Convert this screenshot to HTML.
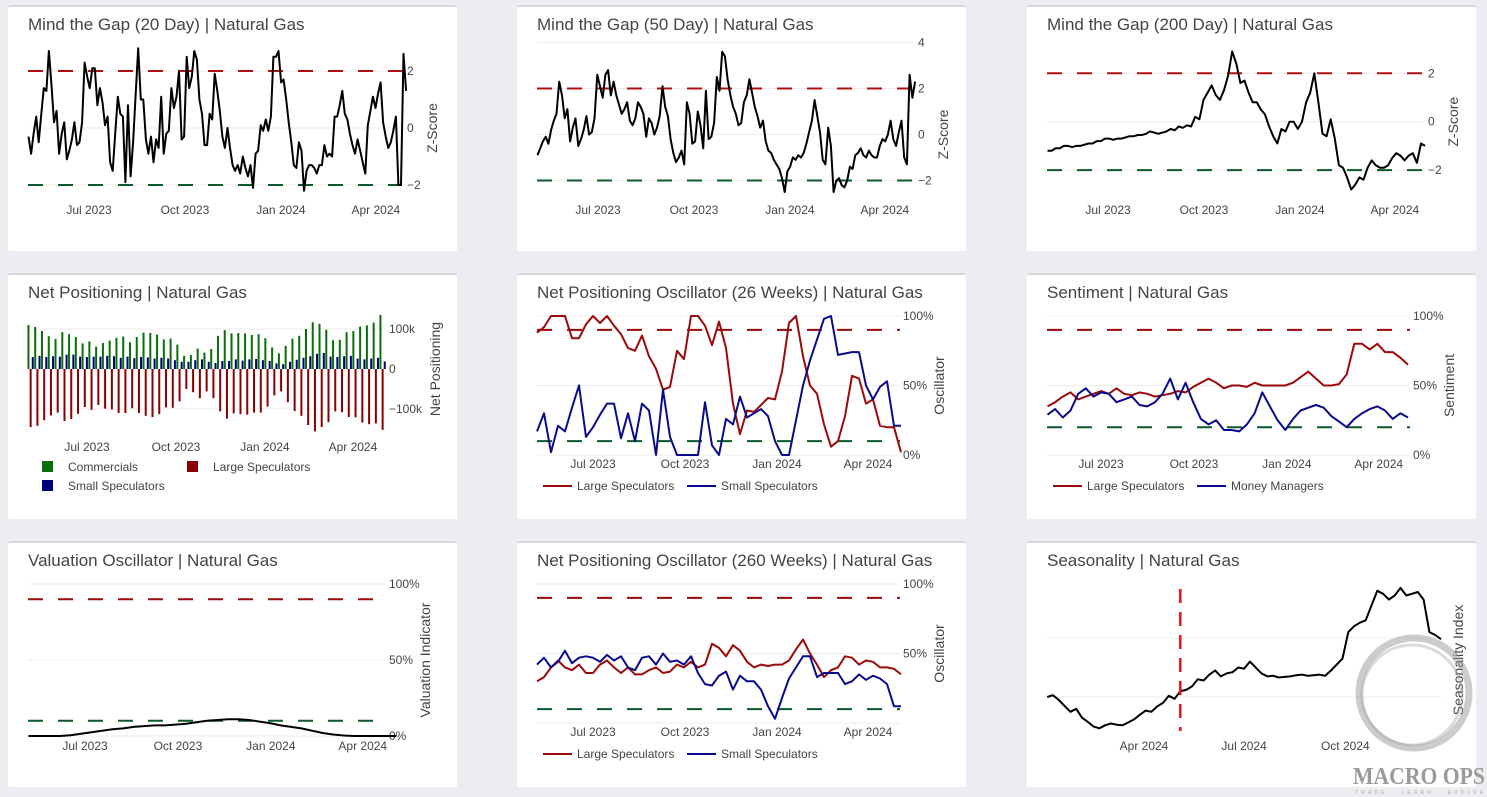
<!DOCTYPE html>
<html><head><meta charset="utf-8">
<style>
html,body{margin:0;padding:0;background:#ebedf1;}
svg{display:block;font-family:"Liberation Sans",sans-serif;}
</style></head>
<body>
<svg id="dash" width="1487" height="797" viewBox="0 0 1487 797"></svg>
<script>
// ---------- DATA ----------
const gap20Values=[-0.3,-0.9,-0.2,0.4,-0.5,0.5,1.4,1.3,2.7,1.5,0.2,0.6,-0.9,-0.2,0.2,-1.1,-0.8,-0.4,0.2,-0.6,-0.5,0.2,2.3,1.8,1.4,2.1,2.1,0.8,1.4,0.9,0.1,0.4,-1.2,-1.5,-0.2,1.1,0.5,0.4,-1.9,0.8,-1.7,-0.5,1.2,2.8,1.0,1.0,-0.4,-0.9,-0.3,-1.2,-0.4,-0.7,1.1,-0.9,-0.2,-0.1,1.4,0.7,1.1,2.0,-0.4,-0.3,2.5,1.4,1.8,2.7,2.4,1.0,0.5,-0.6,-0.6,0.5,0.3,1.9,1.3,0.6,-0.3,-0.7,0.0,-0.7,-1.3,-1.5,-1.3,-1.6,-1.0,-1.4,-1.7,-1.3,-2.1,-0.9,-0.8,0.1,-0.1,0.3,-0.1,0.4,2.5,2.5,2.7,1.6,1.7,1.0,0.2,-0.5,-1.3,-1.4,-0.5,-0.8,-2.2,-1.5,-1.3,-1.3,-1.4,-1.6,-1.3,-1.3,-0.6,-1.0,-0.9,-1.0,0.4,0.4,0.8,1.3,0.5,0.3,-0.2,-0.6,-0.9,-0.4,-0.8,-1.2,-1.6,0.1,0.6,1.1,0.7,1.2,1.6,0.2,-0.3,-0.7,-0.5,-0.1,0.4,-2.0,-2.0,2.6,1.3];
const gap50Values=[-0.9,-0.6,-0.3,-0.1,-0.4,0.2,0.6,0.9,2.3,1.7,0.7,1.1,-0.3,0.3,0.7,-0.5,-0.2,0.2,0.8,0.0,0.1,0.7,2.6,2.1,1.6,2.6,2.8,1.7,2.3,1.7,1.3,0.9,1.1,1.4,0.6,0.4,0.7,1.4,1.2,0.9,-0.1,0.7,0.5,0.0,0.3,0.8,2.1,1.2,0.8,-0.2,-0.8,-1.2,-1.0,-0.7,-1.3,1.4,0.9,-0.4,-0.3,1.0,0.4,-0.6,1.9,-0.2,-0.1,0.5,2.5,1.9,3.6,3.4,2.4,1.7,1.2,0.9,0.4,0.5,1.4,1.7,2.4,1.8,1.2,0.8,0.3,0.6,-0.3,-0.7,-0.8,-1.1,-1.3,-1.5,-1.9,-2.5,-1.6,-1.4,-1.0,-1.1,-0.9,-1.0,-0.8,-0.4,0.1,0.6,1.5,0.8,0.1,-1.1,-1.3,0.3,-0.5,-2.5,-2.0,-1.9,-2.2,-2.3,-2.0,-1.4,-1.5,-0.9,-0.8,-0.6,-0.9,-1.0,-0.7,-0.9,-1.0,-1.0,-0.5,-0.2,-0.3,0.0,0.6,-0.2,-0.5,0.1,0.6,-1.0,-1.3,2.6,1.6,2.3];
const gap200Values=[-1.2,-1.2,-1.1,-1.1,-1.0,-1.0,-1.05,-1.0,-1.0,-0.95,-0.9,-0.9,-0.8,-0.8,-0.7,-0.7,-0.75,-0.7,-0.7,-0.65,-0.6,-0.6,-0.55,-0.55,-0.5,-0.4,-0.45,-0.5,-0.45,-0.4,-0.3,-0.35,-0.2,-0.25,-0.15,-0.2,0.2,0.1,0.9,1.2,1.5,1.1,0.9,1.3,1.9,2.9,2.4,1.6,1.7,1.2,0.8,0.8,0.5,0.3,-0.2,-0.6,-0.9,-0.3,-0.4,0.0,0.0,-0.3,0.0,0.8,1.2,2.0,0.8,-0.5,-0.6,0.1,-0.7,-1.8,-1.9,-2.3,-2.8,-2.6,-2.3,-2.4,-1.9,-1.6,-1.8,-1.9,-1.9,-1.8,-1.5,-1.3,-1.4,-1.6,-1.4,-1.3,-1.7,-0.9,-1.0];
const zTicks=[-2,0,2];
const zTicks50=[-2,0,2,4];
const gapMonthTicks=['2023-07-01','2023-10-01','2024-01-01','2024-04-01'];
const gapMonthLabels=['Jul 2023','Oct 2023','Jan 2024','Apr 2024'];

const commercialsK=[110,105,95,82,75,92,87,80,64,69,56,65,71,78,81,67,80,91,90,86,74,76,61,33,35,51,41,50,83,97,89,90,89,85,87,77,54,39,58,76,83,100,117,113,98,72,73,92,95,106,109,116,135];
const smallSpecK=[30,33,30,32,31,36,36,31,30,31,31,33,32,28,31,27,30,29,26,28,26,22,18,18,22,24,18,15,20,20,24,21,24,25,22,20,14,12,18,23,28,32,38,40,31,30,32,33,26,24,26,28,19];
const largeSpecK=[-145,-142,-128,-116,-109,-130,-125,-112,-95,-102,-90,-99,-101,-110,-110,-98,-110,-117,-120,-113,-96,-97,-81,-50,-58,-73,-56,-73,-106,-124,-111,-113,-114,-109,-109,-94,-66,-56,-83,-105,-117,-140,-156,-145,-133,-106,-108,-120,-121,-134,-138,-136,-152];
const netTicks=[-100,0,100];
const netTickLabels=['\u2212100k','0','100k'];
const netMonthLabels=['Jul 2023','Oct 2023','Jan 2024','Apr 2024'];

const npo26Large=[88,92,100,100,100,84,84,94,100,95,100,93,87,77,75,86,71,62,47,49,75,69,100,100,93,79,96,77,37,15,32,31,36,41,40,60,95,100,71,50,44,22,6,10,28,57,55,37,40,21,20,20,2];
const npo26Small=[17,30,2,21,17,34,50,13,20,29,37,37,12,30,10,37,32,0,47,13,0,0,0,0,38,7,0,26,22,42,27,30,33,28,10,0,0,25,50,68,83,98,100,72,73,74,74,50,40,49,53,21,21];
const pctTicks=[0,50,100];
const pctTickLabels=['0%','50%','100%'];

const sentLarge=[35,38,42,45,40,42,44,46,44,48,44,43,45,44,42,43,44,46,45,49,52,55,52,48,50,50,49,52,50,50,50,50,52,56,60,55,50,50,51,58,80,80,76,80,74,74,70,65];
const sentMoney=[29,33,27,32,44,48,42,45,44,38,40,42,36,35,38,44,55,40,52,38,26,22,25,18,18,17,22,30,45,35,25,18,26,32,34,36,34,28,24,20,26,30,33,35,32,26,30,27];

const valuation=[0,0,0,0,0.5,1.5,2.5,3.5,4.5,5,6,6.5,7,7,7.5,8,9,10,10.5,11,11,10.5,9.5,8.5,7,6,5,3.5,2,1,0.3,0,0,0,0,0];

const npo260Large=[30,33,40,45,40,38,42,36,36,42,45,40,36,40,35,35,38,40,36,37,42,40,44,40,42,57,54,48,56,52,44,40,42,41,42,42,45,53,60,50,42,33,38,40,48,47,42,45,44,40,40,39,35];
const npo260Small=[42,47,40,44,52,43,47,48,47,44,49,45,48,40,38,47,48,42,50,44,45,42,48,36,28,27,34,37,24,34,30,30,24,12,3,18,32,40,48,48,33,36,36,36,28,30,35,31,34,32,28,12,12];

const seasonality=[0,0.3,-0.5,-1.5,-2.5,-2,-3.5,-4.2,-5,-5.3,-4.8,-4.5,-4.7,-4.8,-4.3,-3.8,-3,-2.3,-2.5,-1.6,-1,0.2,-0.3,1,1.2,1.8,3,2.8,3.8,4.5,3.5,4,4.2,5,4.8,6,5,4,3.5,3.6,3.3,3.4,3.5,3.7,3.8,3.6,3.7,3.8,3.6,4.5,5.5,6.5,11,12,12.6,13,15.5,18,17.5,16.5,17.2,18.5,17.2,17.5,17.8,16.5,11,10.5,9.8];
const seasonTicks=['2024-04-01','2024-07-01','2024-10-01'];
const seasonLabels=['Apr 2024','Jul 2024','Oct 2024'];
const seasonGrid=[0,10];
const seasonMarker='2024-05-04';

// ---------- HELPERS ----------
const svg=document.getElementById('dash');
const NS='http://www.w3.org/2000/svg';
const RED='#b01010', GREEN='#0b5a2a', BLUE='#0a0a8c', DRED='#9b0a0a', TXT='#444';
function mk(tag,attrs,parent){const e=document.createElementNS(NS,tag);for(const k in attrs)e.setAttribute(k,attrs[k]);(parent||svg).appendChild(e);return e;}
function day(s){return Date.parse(s)/86400000;}
function xScale(refDate,refX,ppd){return d=>refX+(d-day(refDate))*ppd;}
function yScale(y0,k){return v=>y0-v*k;}
function spread(start,end,n){const a=day(start),b=day(end);const out=[];for(let i=0;i<n;i++)out.push(a+(b-a)*i/(n-1));return out;}

function panel(x,y,title,name){
  const g=mk('g',{});
  
  
  const bd=mk('rect',{x:x,y:y,width:449,height:246,rx:3,fill:'#d4d7dc'},g);
  
  
  const bg=mk('rect',{x:x,y:y+2,width:449,height:244,rx:2,fill:'#fff'},g);
  
  
  const t=mk('text',{x:x+20,y:y+25,'font-size':17,fill:TXT},g);
  t.textContent=title;
  
  
  return g;
}
function hline(g,y,x1,x2,color,dash,name){
  const l=mk('line',{x1:x1,x2:x2,y1:y,y2:y,stroke:color,'stroke-width':dash?2:1,'stroke-dasharray':dash||'none'},g);
  
  
}
function label(g,x,y,txt,anchor,size,name,rot){
  const t=mk('text',{x:x,y:y,'font-size':size||12,fill:TXT,'text-anchor':anchor||'start'},g);
  if(rot)t.setAttribute('transform','rotate(-90 '+x+' '+y+')');
  t.textContent=txt;
  
  
}
function series(g,days,vals,xs,ys,color,name,w){
  let d='';vals.forEach((v,i)=>{d+=(i?'L':'M')+xs(days[i]).toFixed(1)+','+ys(v).toFixed(1);});
  const p=mk('path',{d:d,fill:'none',stroke:color,'stroke-width':w||2,'stroke-linejoin':'round'},g);
  
  
}
function xTicks(g,dates,labels,xs,y){dates.forEach((d,i)=>label(g,xs(day(d)),y,labels[i],'middle',12,'x-tick-label'));}
function yTicks(g,vals,labels,ys,x){vals.forEach((v,i)=>label(g,x,ys(v)+4,labels[i],'start',12,'y-tick-label'));}
function lineLegend(g,x,y,color,txt){
  const l=mk('line',{x1:x,x2:x+29,y1:y,y2:y,stroke:color,'stroke-width':2},g);
  
  
  label(g,x+34,y+4,txt,'start',12,'legend-entry');
}

// ---------- ROW 1: Mind the Gap ----------
function gapPanel(px,title,name,vals,jx,y0,k,ticks,x0,x1){
  const g=panel(px,5,title,name);
  const xs=xScale('2023-07-01',jx,1.043), ys=yScale(y0,k);
  ticks.forEach(v=>hline(g,ys(v),x0,x1,'#ececec',null,'gridline'));
  hline(g,ys(2),x0,x1,RED,'15,15','upper-threshold');
  hline(g,ys(-2),x0,x1,GREEN,'15,15','lower-threshold');
  series(g,spread('2023-05-04','2024-04-30',vals.length),vals,xs,ys,'#000','zscore-line');
  xTicks(g,gapMonthTicks,gapMonthLabels,xs,214);
  yTicks(g,ticks,ticks.map(v=>v<0?'\u2212'+(-v):String(v)),ys,x1+5);
  label(g,x1+35,y0,'Z-Score','middle',14,'y-axis-title',true);
}
gapPanel(8,'Mind the Gap (20 Day) | Natural Gas','gap-20-panel',gap20Values,89,128,28.5,zTicks,28,402);
gapPanel(517,'Mind the Gap (50 Day) | Natural Gas','gap-50-panel',gap50Values,598,134.5,23,zTicks50,537,913);
gapPanel(1027,'Mind the Gap (200 Day) | Natural Gas','gap-200-panel',gap200Values,1108,121.7,24.2,zTicks,1047,1423);

// ---------- ROW 2 ----------
(function(){
  const g=panel(8,273,'Net Positioning | Natural Gas','net-positioning-panel');
  const xs=xScale('2023-07-01',87,0.967), ys=yScale(369,0.4);
  netTicks.forEach(v=>hline(g,ys(v),28,386,'#ececec',null,'gridline'));
  const start=day('2023-05-03');
  commercialsK.forEach((v,i)=>{
    const cx=xs(start+7*i);
    const b1=mk('rect',{x:cx-2.5,y:Math.min(ys(v),ys(0)),width:2,height:Math.abs(ys(v)-ys(0)),fill:'#0a6e0a'},g);
    
    
    const b2=mk('rect',{x:cx-0.3,y:Math.min(ys(largeSpecK[i]),ys(0)),width:2,height:Math.abs(ys(largeSpecK[i])-ys(0)),fill:'#8b0000'},g);
    
    
    const b3=mk('rect',{x:cx+1.8,y:Math.min(ys(smallSpecK[i]),ys(0)),width:2,height:Math.abs(ys(smallSpecK[i])-ys(0)),fill:'#00007a'},g);
    
    
  });
  xTicks(g,gapMonthTicks,netMonthLabels,xs,451);
  yTicks(g,netTicks,netTickLabels,ys,389);
  label(g,440,369,'Net Positioning','middle',14,'y-axis-title',true);
  [[42,461,'#0a6e0a','Commercials'],[187,461,'#8b0000','Large Speculators'],[42,480,'#00007a','Small Speculators']].forEach(l=>{
    const r=mk('rect',{x:l[0],y:l[1],width:11,height:11,fill:l[2]},g);
    
    
    label(g,l[0]+26,l[1]+10,l[3],'start',12,'legend-entry');
  });
})();

function oscPanel(px,py,title,name,refX,ppd,y0,k,x0,x1,a,b,aName,bName,lo,axisTitle,start,end,xLabY,legY,showZero){
  const g=panel(px,py,title,name);
  const xs=xScale('2023-07-01',refX,ppd), ys=yScale(y0,k);
  pctTicks.forEach(v=>hline(g,ys(v),x0,x1,'#ececec',null,'gridline'));
  hline(g,ys(90),x0,x1,DRED,'15,15','upper-threshold');
  hline(g,ys(lo),x0,x1,GREEN,'15,15','lower-threshold');
  if(a){series(g,spread(start,end,a.length),a,xs,ys,DRED,'large-speculators-line');}
  if(b){series(g,spread(start,end,b.length),b,xs,ys,BLUE,bName.toLowerCase().replace(' ','-')+'-line');}
  xTicks(g,gapMonthTicks,gapMonthLabels,xs,xLabY);
  const tv=showZero?pctTicks:pctTicks.slice(1), tl=showZero?pctTickLabels:pctTickLabels.slice(1);
  yTicks(g,tv,tl,ys,x1+3);
  label(g,x1+44,ys(50),axisTitle,'middle',14,'y-axis-title',true);
  if(legY){lineLegend(g,px+26,legY,DRED,aName);lineLegend(g,px+170,legY,BLUE,bName);}
  return {g,xs,ys};
}
oscPanel(517,273,'Net Positioning Oscillator (26 Weeks) | Natural Gas','npo-26-panel',593,1.0,455,1.39,537,900,npo26Large,npo26Small,'Large Speculators','Small Speculators',10,'Oscillator','2023-05-06','2024-05-04',468,486,true);
oscPanel(1027,273,'Sentiment | Natural Gas','sentiment-panel',1101,1.01,455,1.39,1047,1410,sentLarge,sentMoney,'Large Speculators','Money Managers',20,'Sentiment','2023-05-09','2024-04-30',468,486,true);

// ---------- ROW 3 ----------
(function(){
  const o=oscPanel(8,541,'Valuation Oscillator | Natural Gas','valuation-panel',85,1.01,736,1.52,28,386,null,null,'','',10,'Valuation Indicator','2023-05-06','2024-05-04',750,0,true);
  series(o.g,spread('2023-05-06','2024-05-04',valuation.length),valuation,o.xs,o.ys,'#000','valuation-line');
})();
oscPanel(517,541,'Net Positioning Oscillator (260 Weeks) | Natural Gas','npo-260-panel',593,1.0,723,1.39,537,900,npo260Large,npo260Small,'Large Speculators','Small Speculators',10,'Oscillator','2023-05-06','2024-05-04',736,754,false);

(function(){
  const g=panel(1027,541,'Seasonality | Natural Gas','seasonality-panel');
  const xs=xScale('2024-04-01',1144,1.1), ys=yScale(697,5.9);
  seasonGrid.forEach(v=>hline(g,ys(v),1047,1441,'#ececec',null,'gridline'));
  series(g,spread('2024-01-04','2024-12-27',seasonality.length),seasonality,xs,ys,'#000','seasonality-line');
  const m=mk('line',{x1:xs(day(seasonMarker)),x2:xs(day(seasonMarker)),y1:589,y2:731,stroke:'#f01010','stroke-width':2.5,'stroke-dasharray':'14,9'},g);
  
  
  xTicks(g,seasonTicks,seasonLabels,xs,750);
  label(g,1463,660,'Seasonality Index','middle',14,'y-axis-title',true);
  // watermark
  const c=mk('circle',{cx:1414,cy:693,r:55,fill:'none',stroke:'#9a9a9a','stroke-width':7,opacity:0.5},g);
  
  
  const c2=mk('circle',{cx:1412,cy:695,r:50,fill:'none',stroke:'#a5a5a5','stroke-width':3,opacity:0.4},g);
  
  
  const w=mk('text',{x:1353,y:784,'font-size':24,'font-family':'Liberation Serif, serif','font-weight':'bold',fill:'#9a9a9a',textLength:132,lengthAdjust:'spacingAndGlyphs'},g);
  w.textContent='MACRO OPS';
  
  
  const w2=mk('text',{x:1355,y:794,'font-size':5,fill:'#aaa',textLength:128,lengthAdjust:'spacing'},g);
  w2.textContent='TRADE · LEARN · EVOLVE';
  
  
})();
</script>
</body></html>
